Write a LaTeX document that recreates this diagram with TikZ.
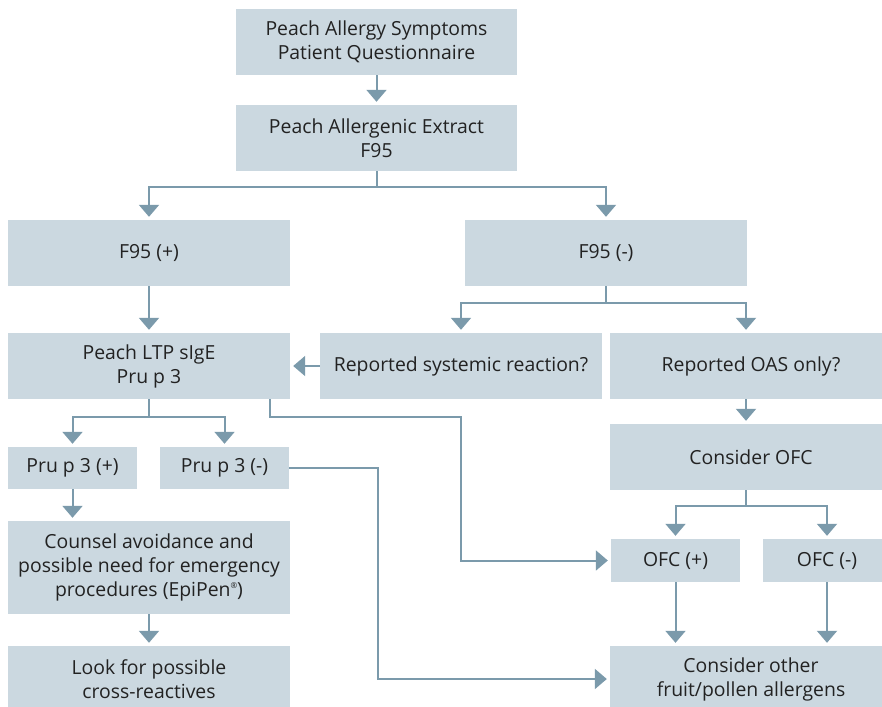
\documentclass[tikz,border=0pt]{standalone}
\usepackage{fontspec}
\setmainfont{Open Sans}
\usetikzlibrary{arrows.meta}
\definecolor{boxfill}{HTML}{CBD8E0}
\definecolor{linec}{HTML}{7B9AAB}
\definecolor{txt}{HTML}{222222}
\tikzset{
  box/.style={rectangle, fill=boxfill, inner sep=0pt, align=center, text=txt,
    font=\fontsize{19.4}{24}\selectfont},
  conn/.style={draw=linec, line width=2pt},
  arr/.style={conn, -{Triangle[width=20pt,length=12pt]}, shorten >=3pt},
}
\begin{document}
\begin{tikzpicture}[x=1pt,y=-1pt]
\clip (0,0) rectangle (882,706);
\fill[white] (0,0) rectangle (882,706);
% boxes
\node[box, minimum width=281pt, minimum height=66pt] (b1) at (376.5,42) {Peach Allergy Symptoms\\Patient Questionnaire};
\node[box, minimum width=281pt, minimum height=66pt] (b2) at (376.5,138) {Peach Allergenic Extract\\F95};
\node[box, minimum width=282pt, minimum height=66pt] (fp) at (149,253) {F95 (+)};
\node[box, minimum width=282pt, minimum height=66pt] (fm) at (606,253) {F95 (-)};
\node[box, minimum width=282pt, minimum height=66pt] (ltp) at (149,366) {Peach LTP sIgE\\Pru p 3};
\node[box, minimum width=282pt, minimum height=66pt] (sys) at (461,366) {Reported systemic reaction?};
\node[box, minimum width=282pt, minimum height=66pt] (oas) at (751,366) {Reported OAS only?};
\node[box, minimum width=282pt, minimum height=66pt] (cofc) at (751,457) {Consider OFC};
\node[box, minimum width=129pt, minimum height=42pt] (pp) at (72.5,468) {Pru p 3 (+)};
\node[box, minimum width=129pt, minimum height=42pt] (pm) at (224.5,468) {Pru p 3 (-)};
\node[box, minimum width=282pt, minimum height=93pt] (cou) at (149,567.5) {Counsel avoidance and\\possible need for emergency\\procedures (EpiPen\raisebox{0.75ex}{\fontsize{8}{8}\selectfont ®})};
\node[box, minimum width=282pt, minimum height=66pt] (look) at (149,679) {Look for possible\\cross-reactives};
\node[box, minimum width=129pt, minimum height=43pt] (op) at (675.5,560.5) {OFC (+)};
\node[box, minimum width=129pt, minimum height=43pt] (om) at (827,560.5) {OFC (-)};
\node[box, minimum width=282pt, minimum height=66pt] (oth) at (751,679) {Consider other\\fruit/pollen allergens};
% helper coordinates
\coordinate (k) at (746,0);
\coordinate (j1) at (270,417);
\coordinate (j2) at (461,417);
\coordinate (j3) at (378,0);
% connectors
\draw[arr] (b1) -- (b2);
\draw[conn] (b2.south) -- ++(0,16) coordinate (m0);
\draw[arr] (m0) -| (fp.north);
\draw[arr] (m0) -| (fm.north);
\draw[arr] (fp) -- (ltp);
\draw[conn] (fm.south) -- ++(0,17) coordinate (m1);
\draw[arr] (m1) -| (sys.north);
\draw[arr] (m1) -| (oas.north -| k);
\draw[arr] (sys.west) -- (ltp.east);
\draw[conn] (ltp.south) -- ++(0,18) coordinate (m2);
\draw[arr] (m2) -| (pp.north);
\draw[arr] (m2) -| (pm.north);
\draw[arr] (j1 |- ltp.south) -- (j1) -- (j2) |- (op.west);
\draw[arr] (pm.east) -- (pm.east -| j3) |- (oth.west);
\draw[arr] (pp.south) -- (pp.south |- cou.north);
\draw[arr] (cou) -- (look);
\draw[arr] (oas.south -| k) -- (cofc.north -| k);
\draw[conn] (cofc.south -| k) -- ++(0,16) coordinate (m3);
\draw[arr] (m3) -| (op.north);
\draw[arr] (m3) -| (om.north);
\draw[arr] (op) -- (op |- oth.north);
\draw[arr] (om) -- (om |- oth.north);
\end{tikzpicture}
\end{document}
